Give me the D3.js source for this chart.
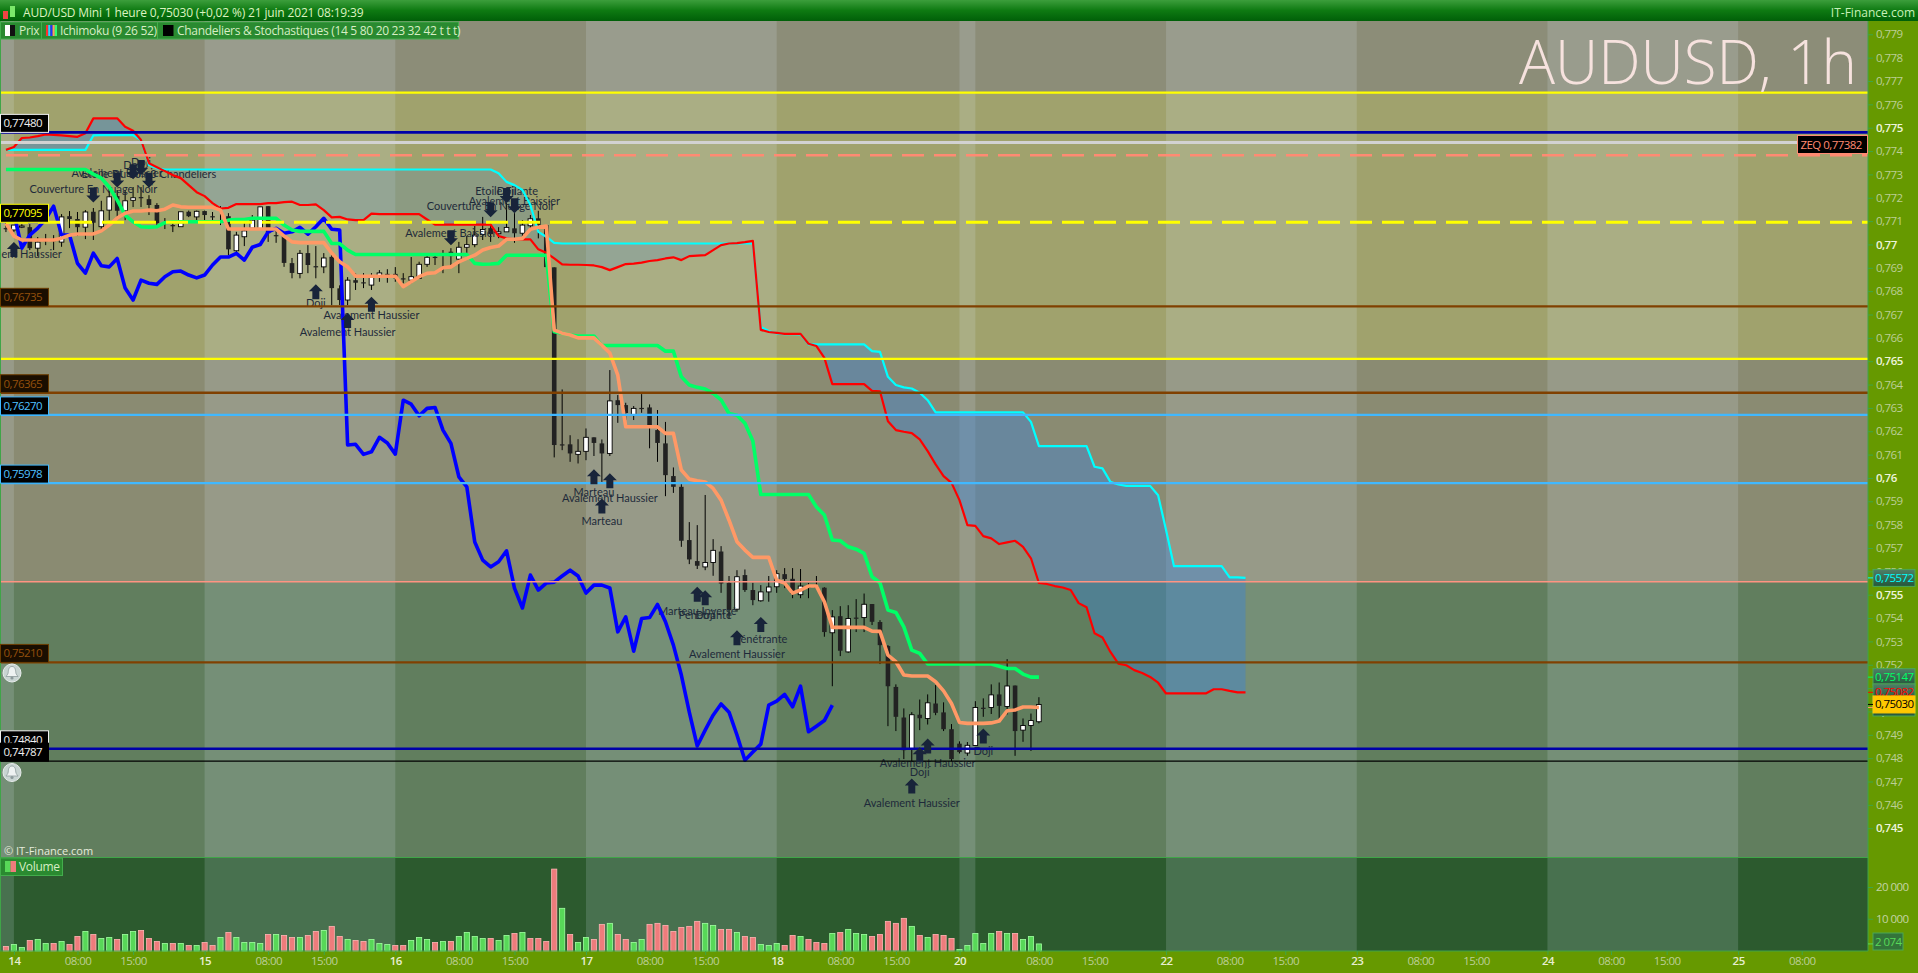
<!DOCTYPE html>
<html>
<head>
<meta charset="utf-8">
<title>AUD/USD</title>
<script src="https://cdn.jsdelivr.net/npm/d3@7"></script>
<style>
  body { margin: 0; background: #669900; overflow: hidden; }
  svg { display: block; font-family: "Open Sans", sans-serif; }
</style>
</head>
<body>
<svg id="chart"></svg>
<script>
// all prices are in 1/100000 (75030 = 0,75030)
const opens = [
  77070,77062,77074,77074,76984,77019,77019,77010,77121,77109,
  77074,77140,77076,77147,77207,77144,77189,77203,77194,77169,
  77096,77083,77076,77140,77118,77143,77121,77104,77121,76973,
  77033,77070,77066,77164,77040,77036,76920,76876,76963,76907,
  76904,76947,76812,76762,76847,76838,76826,76867,76874,76874,
  76855,76847,76855,76915,76947,76962,76969,76937,76988,76999,
  77043,77070,77046,77054,77069,77048,77080,77112,77083,76902,
  76144,76144,76101,76114,76174,76148,76105,76333,76312,76269,
  76300,76302,76205,76148,76008,75962,75734,75644,75619,75638,
  75685,75551,75438,75584,75520,75474,75512,75534,75588,75568,
  75500,75535,75535,75530,75337,75408,75255,75402,75402,75460,
  75383,75280,75105,74974,74841,74986,74970,75034,74996,74924,
  74862,74822,74854,75016,75017,75073,75021,75111,74920,74940,
  74956];
const closes = [
  77070,77083,77079,76984,77010,77019,77019,77118,77109,77074,
  77139,77093,77144,77204,77144,77187,77200,77203,77169,77091,
  77096,77083,77140,77121,77142,77126,77121,77104,76979,77040,
  77058,77104,77161,77048,77040,76921,76878,76962,76912,76907,
  76942,76813,76762,76847,76836,76838,76860,76878,76874,76855,
  76855,76862,76915,76945,76947,76962,76950,76988,76999,77040,
  77064,77044,77054,77073,77048,77083,77110,77083,76903,76141,
  76144,76105,76114,76174,76150,76105,76330,76312,76278,76298,
  76300,76226,76150,76012,75962,75731,75651,75624,75638,75690,
  75548,75434,75577,75520,75477,75512,75533,75590,75567,75503,
  75537,75535,75535,75340,75405,75260,75398,75402,75459,75384,
  75284,75108,74977,74834,74986,74971,75037,74994,74924,74796,
  74826,74855,75017,75016,75071,75024,75109,74916,74940,74961,
  75030];
const highs = [
  77091,77083,77087,77087,77032,77045,77040,77130,77143,77139,
  77147,77156,77187,77241,77233,77233,77246,77246,77211,77177,
  77113,77104,77140,77145,77145,77145,77139,77164,77134,77054,
  77091,77126,77161,77164,77062,77036,76942,76976,76997,76993,
  76963,76967,76825,76860,76877,76877,76877,76890,76894,76903,
  76877,76946,76926,76963,76963,76976,76984,77011,77036,77079,
  77118,77091,77074,77177,77134,77104,77126,77144,77083,76902,
  76379,76183,76166,76212,76174,76165,76462,76355,76322,76308,
  76359,76315,76291,76240,76045,75974,75811,75798,75927,75738,
  75708,75580,75605,75608,75551,75541,75580,75605,75614,75614,
  75610,75550,75580,75532,75434,75451,75455,75481,75505,75460,
  75391,75284,75116,75013,74997,75051,75073,75113,75039,74946,
  74872,74869,75044,75056,75116,75124,75224,75111,74970,74991,
  75061];
const lows = [
  77053,77053,77070,76976,76950,76997,76976,76990,77070,77036,
  77023,77019,77054,77104,77113,77104,77160,77160,77126,77074,
  77066,77053,77076,77117,77104,77104,77104,77083,76954,76964,
  76993,77070,77066,77011,77007,76904,76855,76855,76877,76855,
  76877,76740,76740,76740,76805,76813,76805,76840,76836,76840,
  76834,76834,76855,76904,76912,76877,76904,76877,76964,76988,
  77019,77011,77027,77054,77007,77027,77062,77026,76903,76088,
  76119,76069,76062,76076,76094,75983,76094,76236,76248,76248,
  76279,76127,76069,75922,75936,75705,75631,75610,75605,75581,
  75508,75398,75427,75512,75455,75470,75470,75508,75528,75485,
  75485,75485,75532,75320,75108,75237,75251,75340,75340,75370,
  75203,74937,74916,74796,74787,74920,74944,74984,74916,74787,
  74820,74810,74852,74977,74989,74970,74987,74810,74870,74831,
  74949];

const tenkan = [
  77091,77036,77019,77019,77019,77019,77019,77027,77040,77045,
  77045,77045,77058,77083,77113,77134,77143,77143,77147,77144,
  77151,77169,77161,77159,77159,77159,77159,77147,77066,77066,
  77066,77066,77066,77066,77066,77036,77011,77008,77008,77008,
  77008,76963,76926,76904,76864,76864,76864,76864,76864,76864,
  76819,76840,76862,76876,76879,76900,76904,76926,76940,76954,
  76976,76987,76993,77022,77022,77026,77065,77074,77079,76633,
  76620,76612,76600,76600,76600,76568,76535,76440,76219,76219,
  76219,76219,76219,76191,76191,76034,75995,75988,75983,75955,
  75905,75819,75727,75691,75660,75660,75660,75562,75550,75507,
  75520,75537,75537,75470,75360,75360,75360,75360,75360,75344,
  75343,75241,75213,75156,75152,75152,75152,75127,75088,75034,
  74953,74949,74949,74949,74951,74959,75003,75006,75019,75019,
  75017];
const kijun = [
  77321,77321,77321,77321,77321,77321,77321,77321,77321,77321,
  77321,77301,77284,77246,77190,77126,77097,77076,77074,77076,
  77093,77097,77097,77097,77097,77097,77097,77097,77104,77107,
  77107,77112,77112,77112,77112,77083,77062,77056,77056,77056,
  77056,77004,77004,76976,76957,76957,76957,76957,76957,76957,
  76957,76957,76957,76957,76957,76957,76957,76957,76957,76919,
  76915,76916,76919,76954,76954,76954,76954,76954,76954,76626,
  76620,76612,76608,76608,76608,76567,76567,76567,76567,76567,
  76567,76567,76567,76543,76543,76433,76398,76388,76381,76362,
  76334,76276,76269,76234,76158,75929,75929,75929,75929,75929,
  75929,75929,75876,75841,75734,75731,75705,75695,75677,75577,
  75551,75434,75424,75362,75263,75249,75203,75203,75203,75203,
  75203,75203,75203,75203,75203,75194,75184,75184,75160,75147,
  75147];
const chikou = [
  77096,77134,76984,77040,77070,77109,77164,77040,77040,76919,
  76877,76963,76909,76904,76940,76813,76762,76847,76834,76829,
  76862,76883,76886,76869,76857,76869,76912,76946,76946,76962,
  76933,76988,77000,77054,77069,77048,77054,77073,77044,77076,
  77112,77065,77062,76141,76144,76101,76112,76174,76150,76102,
  76333,76316,76266,76298,76302,76205,76148,76005,75962,75726,
  75648,75619,75641,75688,75528,75443,75584,75520,75550,75554,
  75580,75605,75580,75507,75541,75541,75529,75341,75405,75258,
  75398,75402,75458,75384,75284,75156,74997,74852,74920,74984,
  75032,74997,74899,74791,74826,74860,75027,75044,75073,75020,
  75108,74913,74937,74961,75027];
const spanA = [
  77405,77405,77405,77405,77405,77405,77405,77405,77405,77405,
  77405,77467,77468,77468,77468,77468,77468,77447,77340,77326,
  77321,77321,77321,77321,77321,77321,77321,77321,77321,77321,
  77321,77321,77321,77321,77321,77321,77321,77321,77321,77321,
  77321,77321,77321,77321,77321,77321,77321,77321,77321,77321,
  77321,77321,77321,77321,77321,77321,77321,77321,77321,77321,
  77321,77321,77305,77268,77254,77233,77169,77054,77033,77007,
  77004,77004,77004,77004,77004,77004,77004,77004,77004,77004,
  77004,77004,77004,77004,77004,77004,77004,77004,77004,77004,
  77004,77004,77004,77004,77004,76647,76629,76619,76616,76616,
  76615,76572,76572,76572,76572,76572,76572,76572,76572,76543,
  76540,76433,76398,76388,76383,76365,76333,76281,76281,76281,
  76281,76281,76281,76281,76281,76281,76281,76281,76281,76240,
  76136,76136,76136,76136,76136,76136,76136,76048,76041,75983,
  75972,75966,75966,75966,75966,75926,75777,75622,75622,75622,
  75622,75622,75622,75622,75574,75574,75572];
const spanB = [
  77405,77417,77456,77458,77464,77471,77469,77467,77464,77461,
  77476,77540,77540,77540,77540,77504,77487,77447,77348,77331,
  77314,77297,77284,77254,77224,77207,77177,77154,77157,77173,
  77173,77173,77173,77177,77177,77181,77183,77169,77169,77172,
  77147,77116,77118,77107,77104,77104,77132,77130,77130,77130,
  77130,77130,77130,77107,77085,77085,77085,77085,77085,77085,
  77085,77085,77036,77026,77022,77022,77022,76979,76964,76940,
  76915,76913,76913,76912,76910,76903,76890,76903,76916,76918,
  76922,76929,76933,76940,76945,76933,76950,76952,76954,76976,
  76997,77004,77006,77010,77015,76634,76625,76621,76617,76617,
  76617,76575,76565,76514,76402,76402,76402,76402,76402,76373,
  76371,76243,76205,76198,76192,76165,76115,76058,76008,75979,
  75905,75798,75795,75751,75741,75717,75724,75731,75705,75656,
  75550,75546,75537,75531,75520,75464,75446,75335,75317,75255,
  75205,75198,75177,75165,75148,75123,75077,75077,75077,75077,
  75077,75077,75095,75095,75088,75082,75082];

const volumes = [
  1270,1900,950,3170,3480,2220,2220,2850,1900,4430,
  6010,5060,3800,4110,3480,5060,6010,6330,3800,2850,
  2220,2220,2220,1580,1580,2530,1580,4110,5700,4110,
  2530,2530,2220,5060,5060,4750,4110,4110,4750,6010,
  6330,7600,4430,3480,3170,2850,3480,2220,1900,1580,
  1580,3170,4110,3480,2530,2850,2850,4430,5700,4430,
  3800,3800,3170,4750,5380,5700,3800,3800,2850,25640,
  13290,5060,2530,4110,3480,8230,8550,5060,3480,2530,
  3480,8230,8550,7910,6010,7280,7600,9180,8550,7910,
  6650,6650,5700,4430,4110,1900,1580,2220,1580,4750,
  4430,3480,2530,2220,5380,5700,6650,5380,5060,4430,
  5060,9180,8550,10130,7600,4750,4110,5060,4750,3800,
  320,1580,5380,2220,5380,6010,5380,5380,3480,4430,
  2074];
// 1 = green bar, 0 = red bar
const volumeUp = [
  0,1,1,0,1,1,0,1,0,0, 1,0,1,1,0,1,1,0,0,0,
  1,0,1,0,1,0,0,1,0,1, 1,1,1,0,1,0,0,1,0,0,
  1,0,0,1,0,0,1,1,1,0, 0,1,1,1,0,1,0,1,1,1,
  1,0,1,1,0,1,0,0,0,0, 1,0,1,1,0,0,1,0,0,1,
  1,0,0,0,0,0,0,0,1,1, 0,0,1,0,0,1,1,1,0,0,
  1,0,0,0,1,0,1,1,1,0, 0,0,0,0,1,0,1,0,0,0,
  1,1,1,1,1,0,1,0,1,1, 1];

// bar index of the time ticks and where each day starts
const timeTickIdx = [1,9,16,25,33,40,49,57,64,73,81,88,97,105,112,120,130,137,146,154,161,170,178,185,194,202,209,218,226];
const timeTickLabels = ["14","08:00","15:00","15","08:00","15:00","16","08:00","15:00","17","08:00","15:00","18","08:00","15:00","20","08:00","15:00","22","08:00","15:00","23","08:00","15:00","24","08:00","15:00","25","08:00"];
const lightBands = [[-1,1],[25,49],[73,97],[120,122],[146,170],[194,218]];

const priceTicks = d3.range(74500, 77901, 100);
const volumeTicks = [10000, 20000];

// horizontal levels
const levelPrices = [77650,77480,77437,77382,77095,76735,76510,76365,76270,75978,75555,75210,74840,74787];
const levelColors = ["#ffff00","#0000a8","#d2d2d2","#ff8a72","#ffff00","#804000","#ffff00","#804000","#40b8ff","#40b8ff","#ff9482","#804000","#0000a8","#000000"];
const levelWidths = [2.2,2.6,3,2.6,3,2.4,2.2,2.4,2.4,2.4,1.5,2.4,2.6,1.3];
const levelDashed = [0,0,0,1,1,0,0,0,0,0,0,0,0,0];

// left hand price tags
const tagPrices = [77480,77095,76735,76365,76270,75978,75210,74840,74787];
const tagTexts = ["0,77480","0,77095","0,76735","0,76365","0,76270","0,75978","0,75210","0,74840","0,74787"];
const tagColors = ["#f0f0f0","#ffff00","#94500c","#94500c","#50c0ff","#50c0ff","#94500c","#f0f0f0","#f0f0f0"];
const tagBorders = ["#f0f0f0","#ffff00","#6a3c00","#6a3c00","#40b8ff","#40b8ff","#6a3c00","#f0f0f0","#000000"];

// right hand value tags
const valueTagPrices = [75572,75147,75082,75017,75030];
const valueTagTexts = ["0,75572","0,75147","0,75082","0,75017","0,75030"];
const valueTagColors = ["#00ffff","#00ff66","#ff0000","#ff9966","#000000"];

// candle pattern arrows
const arrowIdx = [1,39,46,43,74,76,75,87,88,92,95,114,115,116,123, 11,14,16,17,18,56,61,63,64];
const arrowPrices = [77010,76830,76776,76706,76037,76020,75912,75534,75519,75348,75405,74713,74847,74884,74927, 77180,77244,77279,77297,77243,76997,77116,77177,77134];
const arrowDown = [0,0,0,0,0,0,0,0,0,0,0,0,0,0,0, 1,1,1,1,1,1,1,1,1];

const labelIdx = [1,39,46,43,74,76,75,87,88,88,92,95,114,115,116,123, 11,14,16,17,18,56,61,63,63,64];
const labelPrices = [76959,76750,76697,76625,75941,75915,75816,75430,75412,75412,75244,75308,74608,74739,74780,74831, 77237,77304,77340,77351,77300,77050,77166,77230,77230,77187];
const labelTexts = ["Avalement Haussier","Doji","Avalement Haussier","Avalement Haussier","Marteau","Avalement Haussier","Marteau","Marteau Inversé","Pénétrante","Doji","Avalement Haussier","Pénétrante","Avalement Haussier","Doji","Avalement Haussier","Doji",
  "Couverture En Nuage Noir","Avalement Baissier","Doji","Doji","Etoile Du Soir 3 Chandeliers","Avalement Baissier","Couverture En Nuage Noir","Etoile Filante","Doji","Avalement Baissier"];

const width = 1918;
const height = 973;
const axisX = 1868;
const mainTop = 21;
const mainBottom = 857.5;
const volBottom = 951;

const svg = d3.select('#chart').attr('width', width).attr('height', height);

const xScale = d3.scaleLinear().domain([0, 230]).range([5.95, 1833.5]);
const yScale = d3.scaleLinear().domain([77900, 74500]).range([34.3, 828.2]);
const volScale = d3.scaleLinear().domain([0, 20000]).range([950.5, 887]);

let defs = svg.append('defs');

let addGradient = (id, stops) => {
    let g = defs.append('linearGradient').attr('id', id).attr('x1', 0).attr('y1', 0).attr('x2', 0).attr('y2', 1);
    stops.forEach((s, i) => {
        g.append('stop').attr('offset', i / (stops.length - 1)).attr('stop-color', s);
    });
}

let drawBackground = () => {
    addGradient('titleGrad', ['#3c9e3c', '#0e7a12', '#005f08']);
    addGradient('tagGrad', ['#4f7f68', '#24563a']);
    defs.append('clipPath').attr('id', 'plotClip').append('rect')
        .attr('x', 0).attr('y', mainTop).attr('width', axisX).attr('height', mainBottom - mainTop);

    svg.append('rect').attr('width', width).attr('height', height).attr('fill', '#669900');

    // price zones
    const zones = [[77900 + 300, 77650, '#8c8d78'], [77650, 76510, '#a0a26d'], [76510, 75555, '#8a8b72'], [75555, 74000, '#617e5e']];
    svg.append('g').selectAll('rect').data(zones).enter().append('rect')
       .attr('x', 0).attr('width', axisX)
       .attr('y', (d) => Math.max(mainTop, yScale(d[0])))
       .attr('height', (d) => Math.min(mainBottom, yScale(d[1])) - Math.max(mainTop, yScale(d[0])))
       .attr('fill', (d) => d[2]);

    svg.append('rect').attr('x', 0).attr('y', mainBottom).attr('width', axisX)
       .attr('height', volBottom - mainBottom).attr('fill', '#2c5a2e');

    // lighter days
    svg.append('g').selectAll('rect').data(lightBands).enter().append('rect')
       .attr('x', (d) => Math.max(0, xScale(d[0])))
       .attr('width', (d) => xScale(d[1]) - Math.max(0, xScale(d[0])))
       .attr('y', mainTop).attr('height', volBottom - mainTop)
       .attr('fill', 'rgb(225,235,255)').attr('opacity', 0.16);
}

let drawCloud = (g) => {
    // the cloud is only faint between bars 18 and 94
    let faint = (i) => i >= 18 && i <= 94;
    let area = d3.area()
                 .x((d, i) => xScale(i))
                 .y0((d) => yScale(d))
                 .y1((d, i) => yScale(spanB[i]));
    g.append('path').attr('d', area.defined((d, i) => faint(i))(spanA))
     .attr('fill', 'rgb(60,130,215)').attr('opacity', 0.2);
    g.append('path').attr('d', area.defined((d, i) => !faint(i))(spanA))
     .attr('fill', 'rgb(60,130,215)').attr('opacity', 0.42);
}

let drawCandles = (g) => {
    let candles = g.append('g').selectAll('g').data(closes).enter().append('g');
    candles.append('line')
           .attr('x1', (d, i) => xScale(i)).attr('x2', (d, i) => xScale(i))
           .attr('y1', (d, i) => yScale(highs[i])).attr('y2', (d, i) => yScale(lows[i]))
           .attr('stroke', '#000').attr('stroke-width', 1);
    candles.append('rect')
           .attr('x', (d, i) => xScale(i) - 2.3)
           .attr('width', 4.6)
           .attr('y', (d, i) => yScale(Math.max(opens[i], closes[i])))
           .attr('height', (d, i) => Math.max(1.2, Math.abs(yScale(opens[i]) - yScale(closes[i]))))
           .attr('fill', (d, i) => closes[i] > opens[i] ? '#fff' : '#222')
           .attr('stroke', (d, i) => closes[i] > opens[i] ? '#000' : 'none')
           .attr('stroke-width', 0.9);
}

let drawPatternLabels = (g) => {
    g.append('g').selectAll('text').data(labelTexts).enter().append('text')
     .attr('x', (d, i) => xScale(labelIdx[i]))
     .attr('y', (d, i) => yScale(labelPrices[i]))
     .attr('dy', '0.35em')
     .attr('text-anchor', 'middle')
     .attr('font-family', 'Lato, sans-serif')
     .attr('font-size', 11)
     .attr('fill', '#1e2a3a')
     .text((d) => d);
}

let drawIchimoku = (g) => {
    let line = d3.line().x((d, i) => xScale(i)).y((d) => yScale(d));
    const series = [
        [spanA, '#00ffff', 2.2],
        [spanB, '#ff0000', 2.2],
        [chikou, '#0000ff', 3.6],
        [kijun, '#00ff66', 3.6],
        [tenkan, '#ff9966', 3.6]
    ];
    g.append('g').selectAll('path').data(series).enter().append('path')
     .attr('d', (d) => line(d[0]))
     .attr('fill', 'none')
     .attr('stroke', (d) => d[1])
     .attr('stroke-width', (d) => d[2])
     .attr('stroke-linejoin', 'round');
}

let drawLevels = (g) => {
    g.append('g').selectAll('line').data(levelPrices).enter().append('line')
     .attr('x1', 0)
     .attr('x2', (d) => d == 77437 ? 1797 : axisX)
     .attr('y1', (d) => yScale(d)).attr('y2', (d) => yScale(d))
     .attr('stroke', (d, i) => levelColors[i])
     .attr('stroke-width', (d, i) => levelWidths[i])
     .attr('stroke-dasharray', (d, i) => levelDashed[i] ? '22 10' : null)
     .attr('stroke-dashoffset', -6);
}

let drawArrows = (g) => {
    const shape = 'M0,0 L7,7 L3.5,7 L3.5,15 L-3.5,15 L-3.5,7 L-7,7 Z';
    g.append('g').selectAll('path').data(arrowPrices).enter().append('path')
     .attr('d', shape)
     .attr('transform', (d, i) => 'translate(' + xScale(arrowIdx[i]) + ',' + yScale(d) + ')' + (arrowDown[i] ? ' scale(1,-1)' : ''))
     .attr('fill', '#18243a');
}

let drawVolume = () => {
    let g = svg.append('g');
    g.selectAll('rect').data(volumes).enter().append('rect')
     .attr('x', (d, i) => xScale(i) - 2.6)
     .attr('width', 5.2)
     .attr('y', (d) => volScale(d))
     .attr('height', (d) => volBottom - volScale(d))
     .attr('fill', (d, i) => volumeUp[i] ? '#58d858' : '#ee7c7c')
     .attr('stroke', (d, i) => volumeUp[i] ? '#a0ffa0' : '#ffb4b4')
     .attr('stroke-width', 0.8);
}

const axisFont = (sel) => {
    sel.attr('font-family', '"Open Sans", sans-serif')
       .attr('font-size', 11.5)
       .attr('letter-spacing', -0.55);
}

let drawAxes = () => {
    // frame lines of the panels
    const frame = [[axisX, 21, axisX, volBottom], [0, mainBottom, axisX, mainBottom], [0, volBottom, axisX, volBottom], [0.5, 21, 0.5, volBottom]];
    svg.append('g').selectAll('line').data(frame).enter().append('line')
       .attr('x1', (d) => d[0]).attr('y1', (d) => d[1]).attr('x2', (d) => d[2]).attr('y2', (d) => d[3])
       .attr('stroke', '#3fa548').attr('stroke-width', 1);

    let priceAxis = d3.axisRight(yScale)
                      .tickValues(priceTicks)
                      .tickSize(5)
                      .tickPadding(3)
                      .tickFormat((d) => (d / 100000).toString().replace('.', ','));
    let priceG = svg.append('g').attr('transform', 'translate(' + axisX + ',0)').call(priceAxis);
    priceG.select('.domain').remove();
    priceG.selectAll('.tick line').attr('stroke', '#3fa548');
    priceG.selectAll('.tick text')
          .call(axisFont)
          .attr('font-weight', (d) => d % 500 == 0 ? 600 : 400)
          .attr('fill', (d) => d % 500 == 0 ? '#eef4dc' : '#bccf96');

    let volAxis = d3.axisRight(volScale)
                    .tickValues(volumeTicks)
                    .tickSize(5)
                    .tickPadding(3)
                    .tickFormat((d) => d3.format(',')(d).replace(',', ' '));
    let volG = svg.append('g').attr('transform', 'translate(' + axisX + ',0)').call(volAxis);
    volG.select('.domain').remove();
    volG.selectAll('.tick line').attr('stroke', '#3fa548');
    volG.selectAll('.tick text').call(axisFont).attr('fill', '#c4d4a4');

    let timeAxis = d3.axisBottom(xScale)
                     .tickValues(timeTickIdx)
                     .tickSize(4)
                     .tickPadding(2)
                     .tickFormat((d, i) => timeTickLabels[i]);
    let timeG = svg.append('g').attr('transform', 'translate(0,' + volBottom + ')').call(timeAxis);
    timeG.select('.domain').remove();
    timeG.selectAll('.tick line').attr('stroke', '#3fa548');
    timeG.selectAll('.tick text')
         .call(axisFont)
         .attr('font-weight', (d, i) => timeTickLabels[i].length == 2 ? 600 : 400)
         .attr('fill', (d, i) => timeTickLabels[i].length == 2 ? '#e6eed0' : '#bccf96');
}

let drawLevelTags = () => {
    let tags = svg.append('g').selectAll('g').data(tagPrices).enter().append('g')
                  .attr('transform', (d) => 'translate(0.5,' + (yScale(d) - 18) + ')');
    tags.append('rect').attr('width', 48).attr('height', 18)
        .attr('fill', (d, i) => tagColors[i] == '#94500c' ? '#1a0e00' : '#000')
        .attr('stroke', (d, i) => tagBorders[i]).attr('stroke-width', 1);
    tags.append('text').attr('x', 3).attr('y', 9).attr('dy', '0.35em')
        .call(axisFont)
        .attr('fill', (d, i) => tagColors[i])
        .text((d, i) => tagTexts[i]);
}

let drawValueTags = () => {
    let tags = svg.append('g').selectAll('g').data(valueTagPrices).enter().append('g')
                  .attr('transform', (d) => 'translate(1873,' + (yScale(d) - 8.5) + ')');
    tags.append('rect').attr('width', 42).attr('height', 17)
        .attr('fill', (d, i) => i == 4 ? '#ffc800' : 'url(#tagGrad)')
        .attr('stroke', (d, i) => i == 4 ? '#ffc800' : '#4aa855');
    tags.append('text').attr('x', 2).attr('y', 8.5).attr('dy', '0.35em')
        .call(axisFont)
        .attr('fill', (d, i) => valueTagColors[i])
        .text((d, i) => valueTagTexts[i]);
    svg.append('g').selectAll('line').data(valueTagPrices).enter().append('line')
       .attr('x1', axisX).attr('x2', 1873)
       .attr('y1', (d) => yScale(d)).attr('y2', (d) => yScale(d))
       .attr('stroke', (d, i) => valueTagColors[i]);

    // last volume
    let vol = svg.append('g').attr('transform', 'translate(1873,933)');
    vol.append('rect').attr('width', 30).attr('height', 17).attr('fill', '#33743a').attr('stroke', '#4aa855');
    vol.append('text').attr('x', 2).attr('y', 8.5).attr('dy', '0.35em')
       .call(axisFont).attr('fill', '#58d858').text('2 074');
    svg.append('line').attr('x1', axisX).attr('x2', 1873).attr('y1', volScale(2074)).attr('y2', volScale(2074)).attr('stroke', '#58d858');
}

let drawBell = (cx, cy) => {
    let g = svg.append('g').attr('transform', 'translate(' + cx + ',' + cy + ')');
    g.append('circle').attr('r', 9).attr('fill', '#c8d4d2').attr('stroke', '#e8ecec').attr('stroke-width', 1);
    g.append('path').attr('d', 'M0,-6.5 C3,-6.5 3.6,-3.5 3.8,-0.5 C4,1.5 5.5,2.5 6,3.5 L-6,3.5 C-5.5,2.5 -4,1.5 -3.8,-0.5 C-3.6,-3.5 -3,-6.5 0,-6.5 Z')
     .attr('fill', '#eef2f2').attr('stroke', '#8d9a9c').attr('stroke-width', 0.8);
    g.append('circle').attr('cy', 5).attr('r', 1.6).attr('fill', '#8d9a9c');
}

let addChip = (x, y, w, h) => {
    svg.append('rect').attr('x', x).attr('y', y).attr('width', w).attr('height', h)
       .attr('fill', '#2a8a30').attr('stroke', '#43ad4c').attr('stroke-width', 1);
}

let addChipText = (x, y, str) => {
    svg.append('text').attr('x', x).attr('y', y).attr('dy', '0.35em')
       .attr('font-size', 12).attr('letter-spacing', -0.3).attr('fill', '#d6eec4').text(str);
}

let drawHeader = () => {
    svg.append('rect').attr('width', width).attr('height', 21).attr('fill', 'url(#titleGrad)');
    // small icon
    svg.append('rect').attr('x', 3).attr('y', 11).attr('width', 5).attr('height', 8).attr('fill', '#e44');
    svg.append('rect').attr('x', 10).attr('y', 6).attr('width', 5).attr('height', 11).attr('fill', '#7be86a');
    svg.append('text').attr('x', 23).attr('y', 12.5).attr('dy', '0.35em')
       .attr('font-size', 12).attr('letter-spacing', -0.16).attr('fill', '#dcf2c0')
       .text('AUD/USD Mini 1 heure 0,75030 (+0,02 %) 21 juin 2021 08:19:39');
    svg.append('text').attr('x', 1915).attr('y', 12.5).attr('dy', '0.35em').attr('text-anchor', 'end')
       .attr('font-size', 12).attr('fill', '#c8f0b8').text('IT-Finance.com');

    addChip(0.5, 22, 41, 17);
    svg.append('rect').attr('x', 5).attr('y', 25).attr('width', 5).attr('height', 11).attr('fill', '#fff');
    svg.append('rect').attr('x', 10).attr('y', 25).attr('width', 5).attr('height', 11).attr('fill', '#111');
    addChipText(19, 31, 'Prix');

    addChip(41.5, 22, 116, 17);
    ['#ff3030', '#30d0ff', '#2030ff', '#ff9966', '#30ff70'].forEach((c, i) => {
        svg.append('rect').attr('x', 46 + i * 2.2).attr('y', 25).attr('width', 2.2).attr('height', 11).attr('fill', c);
    });
    addChipText(60, 31, 'Ichimoku (9 26 52)');

    addChip(157.5, 22, 301, 17);
    svg.append('rect').attr('x', 163).attr('y', 25).attr('width', 10.5).attr('height', 11).attr('fill', '#000');
    addChipText(177, 31, 'Chandeliers & Stochastiques (14 5 80 20 23 32 42 t t t)');

    // volume legend
    addChip(0.5, 858, 62, 17.5);
    svg.append('rect').attr('x', 5).attr('y', 861).attr('width', 5.5).attr('height', 11).attr('fill', '#58d858');
    svg.append('rect').attr('x', 10.5).attr('y', 861).attr('width', 5.5).attr('height', 11).attr('fill', '#ee7c7c');
    addChipText(19, 867, 'Volume');

    svg.append('text').attr('x', 4).attr('y', 851).attr('dy', '0.35em')
       .attr('font-size', 11).attr('fill', '#e6ecdc').text('© IT-Finance.com');

    svg.append('text').attr('x', 1857).attr('y', 83.5).attr('text-anchor', 'end')
       .attr('font-size', 60).attr('font-weight', 300).attr('fill', '#f6e2de').text('AUDUSD, 1h');

    // ZEQ tag
    let zeq = svg.append('g').attr('transform', 'translate(1797.5,135.5)');
    zeq.append('rect').attr('width', 70).attr('height', 18).attr('fill', '#000').attr('stroke', '#ff8a72');
    zeq.append('text').attr('x', 3).attr('y', 9).attr('dy', '0.35em')
       .call(axisFont).attr('fill', '#ff8a72').text('ZEQ 0,77382');
}

drawBackground();
let plot = svg.append('g').attr('clip-path', 'url(#plotClip)');
drawCloud(plot);
drawCandles(plot);
drawPatternLabels(plot);
drawIchimoku(plot);
drawLevels(plot);
drawArrows(plot);
drawVolume();
drawAxes();
drawHeader();
drawLevelTags();
drawValueTags();
drawBell(12, 673);
drawBell(12, 772.5);
</script>
</body>
</html>
